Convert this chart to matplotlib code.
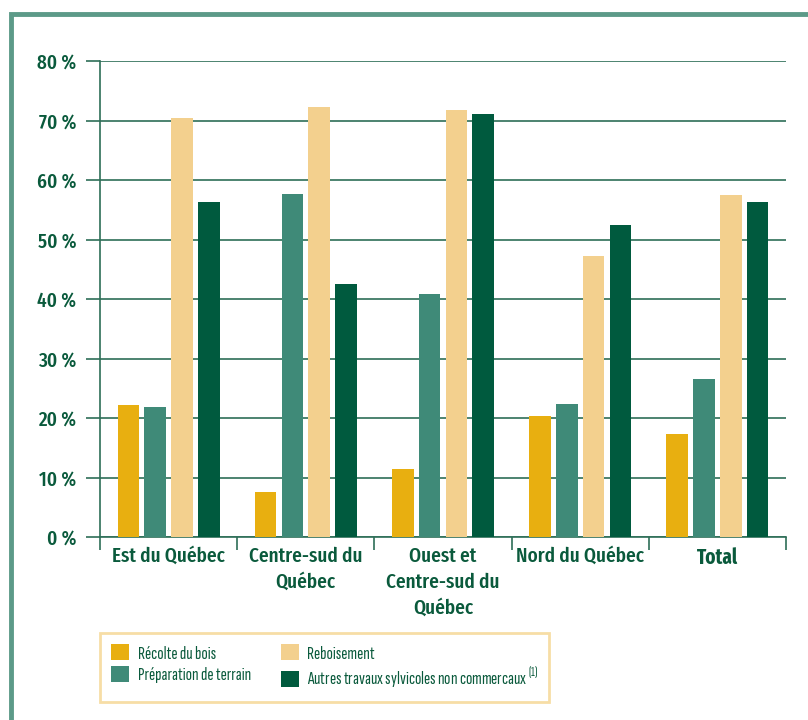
import numpy as np
import matplotlib
matplotlib.use("Agg")
import matplotlib.pyplot as plt
from matplotlib.patches import Rectangle

plt.rcParams['font.family'] = ['Fira Sans Extra Condensed', 'DejaVu Sans']
plt.rcParams['mathtext.fontset'] = 'custom'
plt.rcParams['mathtext.rm'] = 'Sofia Sans Extra Condensed'

regions = ["Est du Québec", "Centre-sud du\nQuébec", "Ouest et\nCentre-sud du\nQuébec",
           "Nord du Québec", "Total"]
series = ["Récolte du bois", "Préparation de terrain", "Reboisement",
          "Autres travaux sylvicoles non commercaux $^{\\mathregular{(1)}}$"]
recolte = [22.2, 7.6, 11.4, 20.4, 17.3]
preparation = [21.8, 57.6, 40.8, 22.3, 26.5]
reboisement = [70.5, 72.3, 71.8, 47.2, 57.4]
autres = [56.3, 42.5, 71.1, 52.4, 56.3]
yticks = [0, 10, 20, 30, 40, 50, 60, 70, 80]

colors = ["#e8af10", "#3f8a78", "#f3d08e", "#005a3e"]
txt = "#0a5a3c"
grid_c = "#2e6e58"

fig = plt.figure(figsize=(8.08, 7.2), dpi=100)

# outer frame (top + left border)
fig.add_artist(Rectangle((11/808, -0.1), 2.0, 1 - 14/720 + 0.1, transform=fig.transFigure,
                         fill=False, edgecolor="#5c9a88", linewidth=3.5))

ax = fig.add_axes([100/808, 1 - 537/720, 686/808, 476/720])

x = np.arange(len(regions))
w = 0.157
step = 0.195
data = [recolte, preparation, reboisement, autres]
for i, (vals, c, lab) in enumerate(zip(data, colors, series)):
    ax.bar(x + (i - 1.5) * step, vals, w, color=c, label=lab, zorder=3)

ax.set_xlim(-0.5, len(regions) - 0.5)
ax.set_ylim(0, 80)
ax.set_yticks(yticks)
ax.set_yticklabels([f"{v} %" for v in yticks], fontweight='medium')
ax.yaxis.grid(True, color=grid_c, linewidth=1.2, zorder=0)
ax.tick_params(axis='y', length=10, width=1.2, color=grid_c, pad=7, labelsize=15, labelcolor=txt)

ax.set_xticks(x)
ax.set_xticklabels(regions, linespacing=1.4, fontweight='medium')
ax.set_xticks(np.arange(-0.5, len(regions)), minor=True)
ax.tick_params(axis='x', which='major', length=0, pad=7, labelsize=15, labelcolor=txt)
ax.tick_params(axis='x', which='minor', length=9, width=1.2, color=grid_c)
ax.get_xticklabels()[-1].set_fontweight('bold')
for lab in ax.get_xticklabels():
    lab.set_verticalalignment('top')

for s in ['top', 'right']:
    ax.spines[s].set_visible(False)
for s in ['left', 'bottom']:
    ax.spines[s].set_color(grid_c)
    ax.spines[s].set_linewidth(1.2)

leg = fig.legend(loc='upper left', bbox_to_anchor=(100/808, 1 - 633/720), ncol=2,
                 prop={'family': 'Sofia Sans Extra Condensed', 'size': 13.5, 'weight': 'medium'},
                 frameon=True, fancybox=False, handlelength=0.95,
                 handleheight=0.95, handletextpad=0.45, columnspacing=1.6,
                 labelspacing=0.2, borderpad=0.6, borderaxespad=0, labelcolor=txt)
leg.get_frame().set_edgecolor("#f5d590")
leg.get_frame().set_linewidth(2)

fig.savefig("out.png", dpi=100)
